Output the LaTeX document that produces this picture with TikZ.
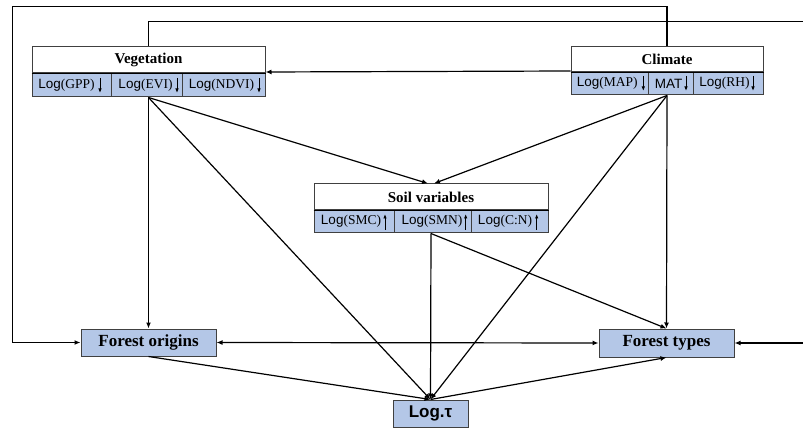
\documentclass[tikz,border=0pt]{standalone}
\usepackage{fontspec}
\setmainfont{Liberation Serif}
\setsansfont{Liberation Sans}
\usetikzlibrary{arrows.meta,calc}
\definecolor{cellblue}{HTML}{B4C7E7}
\definecolor{boxgrey}{HTML}{404040}
\tikzset{
  hdr/.style={draw=boxgrey, line width=1pt, fill=white, inner sep=0pt,
    font=\fontsize{15}{18}\selectfont\bfseries},
  cell/.style={draw=boxgrey, line width=1pt, fill=cellblue, inner sep=0pt},
  celltxt/.style={inner sep=0pt, font=\fontsize{13.5}{16}\selectfont},
  target/.style={draw=boxgrey, line width=1pt, fill=cellblue, inner sep=0pt,
    font=\fontsize{17}{20}\selectfont\bfseries},
  sep/.style={line width=1.6pt, black},
  conn/.style={line width=1.2pt, black},
  arr/.style={-{Latex[length=6pt,width=5pt]}},
  darr/.style={{Latex[length=6pt,width=5pt]}-{Latex[length=6pt,width=5pt]}},
  cellarr/.style={line width=0.9pt, -{Latex[length=4.5pt,width=3.5pt]}}
}
\begin{document}
\begin{tikzpicture}[x=1pt,y=-1pt]
\useasboundingbox (0,0) rectangle (803,430);

% ---------- Vegetation ----------
\node[hdr, minimum width=233, minimum height=26] (vegH) at (148.5,60) {Vegetation};
\node[cell, minimum width=79, minimum height=24] (gpp) at (71.5,85) {};
\node[cell, minimum width=71, minimum height=24] (evi) at (146.5,85) {};
\node[cell, minimum width=83, minimum height=24] (ndvi) at (223.5,85) {};
\draw[sep] (vegH.south west) -- (vegH.south east);
\node[celltxt] (gppT) at (66.5,85) {\textsf{Log}(GPP)};
\node[celltxt] (eviT) at (145.5,85) {\textsf{Log}(EVI)};
\node[celltxt] (ndviT) at (221.5,85) {\textsf{Log}(NDVI)};
\draw[cellarr] (100,78) -- (100,93);
\draw[cellarr] (177,78) -- (177,93);
\draw[cellarr] (259,78) -- (259,93);

% ---------- Climate ----------
\node[hdr, minimum width=192, minimum height=25] (climH) at (667,59.5) {Climate};
\node[cell, minimum width=77, minimum height=23] (map) at (609.5,83.5) {};
\node[cell, minimum width=45, minimum height=23] (mat) at (670.5,83.5) {};
\node[cell, minimum width=70, minimum height=23] (rh) at (728,83.5) {};
\draw[sep] (climH.south west) -- (climH.south east);
\node[celltxt] (mapT) at (607.3,83.5) {\textsf{Log}(MAP)};
\node[celltxt] (matT) at (668.5,83.5) {\textsf{MAT}};
\node[celltxt] (rhT) at (724.5,83.5) {\textsf{Log}(RH)};
\draw[cellarr] (643.3,76) -- (643.3,91);
\draw[cellarr] (686,76) -- (686,91);
\draw[cellarr] (753,76) -- (753,91);

% ---------- Soil variables ----------
\node[hdr, minimum width=234, minimum height=26] (soilH) at (431,197) {Soil variables};
\node[cell, minimum width=80, minimum height=23] (smc) at (354,221.5) {};
\node[cell, minimum width=77, minimum height=23] (smn) at (432.5,221.5) {};
\node[cell, minimum width=77, minimum height=23] (cn) at (509.5,221.5) {};
\draw[sep] (soilH.south west) -- (soilH.south east);
\node[celltxt] (smcT) at (351,221.5) {\textsf{Log}(SMC)};
\node[celltxt] (smnT) at (432,221.5) {\textsf{Log}(SMN)};
\node[celltxt] (cnT) at (505,221.5) {\textsf{Log}(C:N)};
\draw[cellarr] (385,230) -- (385,214);
\draw[cellarr] (465.7,230) -- (465.7,214);
\draw[cellarr] (536.7,230) -- (536.7,214);

% ---------- Targets ----------
\node[target, minimum width=135, minimum height=27] (fo) at (148.5,342.5) {Forest origins};
\node[target, minimum width=135, minimum height=28] (ft) at (666.5,343) {Forest types};
\node[target, minimum width=75, minimum height=27, font=\fontsize{17}{20}\selectfont\sffamily\bfseries] (tau) at (430.5,413.5) {Log.τ};

% ---------- source points ----------
\coordinate (vegS) at (vegH.north |- evi.south);
\coordinate (climS) at (climH.north |- mat.south);
\coordinate (soilS) at (soilH.north |- smn.south);
\coordinate (topL) at (12.7,6.7);
\coordinate (topR) at (805,21.7);

% ---------- connectors ----------
\draw[conn,arr] (climH.north) |- (topL) |- (fo.west);
\draw[conn,arr] (vegH.north) |- (topR) |- (ft.east);
\draw[conn,arr] ($(climH.west)+(0,11.5)$) -- ($(vegH.east)+(0,12)$);

\draw[conn,arr] (vegS) -- (fo.north);
\draw[conn,arr] (vegS) -- (tau.north);
\draw[conn,arr] (vegS) -- ($(soilH.north)+(-3,0)$);

\draw[conn,arr] (climS) -- (ft.north);
\draw[conn,arr] (climS) -- ($(soilH.north)+(3,0)$);
\draw[conn,arr] (climS) -- (tau.north);

\draw[conn,arr] (soilS) -- (tau.north);
\draw[conn,arr] (soilS) -- (ft.north);

\draw[conn,arr] (fo.south) -- (tau.north);
\draw[conn,arr] (tau.north) -- (ft.south);
\draw[conn,darr] (fo.east) -- (ft.west);
\end{tikzpicture}
\end{document}
